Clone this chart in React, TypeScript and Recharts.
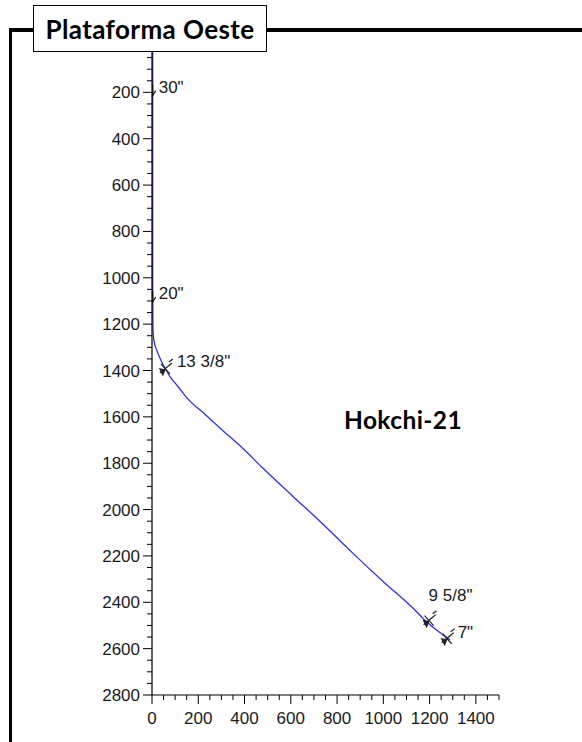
import React from "react";
import { ComposedChart, Line, Scatter, XAxis, YAxis } from "recharts";

// Well trajectory (horizontal displacement in m, vertical depth in m)
const wellX = [3, 3, 3, 3, 4, 5, 10, 20, 36, 56, 80, 99, 113, 152, 230, 309, 383, 480, 606, 736, 870, 1000, 1130, 1187, 1288];
const wellDepth = [0, 200, 600, 1000, 1200, 1240, 1280, 1311, 1350, 1389, 1430, 1453, 1470, 1519, 1590, 1662, 1727, 1822, 1940, 2060, 2190, 2311, 2427, 2484, 2562];

// Casing shoes
const casingNames = ['30"', '20"', '13 3/8"', '9 5/8"', '7"'];
const casingX = [3, 3, 60, 1200, 1278];
const casingDepth = [210, 1100, 1389, 2475, 2553];
const casingKind = ["arrow", "arrow", "cross", "cross", "cross"];

const xTicks = Array.from({ length: 31 }, (_, i) => i * 50);
const yTicks = Array.from({ length: 57 }, (_, i) => i * 50);

const titleText = "Plataforma Oeste";
const wellName = "Hokchi-21";

const wellData = wellX.map((x, i) => ({ x, depth: wellDepth[i] }));
const casingData = casingNames.map((name, i) => ({
  name,
  x: casingX[i],
  depth: casingDepth[i],
  kind: casingKind[i],
}));

const labelOffset: Record<string, [number, number]> = {
  '30"': [6, -8],
  '20"': [6, -8],
  '13 3/8"': [11, -7],
  '9 5/8"': [-1, -25],
  '7"': [10, -6],
};

const FONT = "Arial, 'Liberation Sans', sans-serif";
const TICK_COLOR = "#1a1a1a";

const YTick = (props: any) => {
  const { x, y, payload } = props;
  const v = payload.value;
  const major = v % 200 === 0;
  return (
    <g>
      <line x1={x - (major ? 9 : 5)} y1={y} x2={x} y2={y} stroke="#000" strokeWidth={1} />
      {major && v !== 0 && (
        <text x={x - 12} y={y} dy={6} textAnchor="end" fontSize={17} fontFamily={FONT} fill={TICK_COLOR}>
          {v}
        </text>
      )}
    </g>
  );
};

const XTick = (props: any) => {
  const { x, y, payload } = props;
  const v = payload.value;
  const major = v % 200 === 0;
  return (
    <g>
      <line x1={x} y1={y} x2={x} y2={y + (major ? 9 : 5)} stroke="#000" strokeWidth={1} />
      {major && (
        <text x={x} y={y + 29} textAnchor="middle" fontSize={17} fontFamily={FONT} fill={TICK_COLOR}>
          {v}
        </text>
      )}
    </g>
  );
};

const CasingShape = (props: any) => {
  const { cx, cy, payload } = props;
  const [dx, dy] = labelOffset[payload.name] || [6, -6];
  return (
    <g>
      {payload.kind === "arrow" ? (
        <g stroke="#111" strokeWidth={1.2} fill="#111">
          <line x1={cx} y1={cy - 10} x2={cx} y2={cy} />
          <path d={`M${cx - 3},${cy - 4} L${cx},${cy + 1} L${cx + 3},${cy - 4}`} fill="none" />
        </g>
      ) : (
        <g stroke="#222" strokeWidth={1.2} fill="#222">
          <line x1={cx - 6} y1={cy + 5} x2={cx + 6} y2={cy - 5} />
          <line x1={cx - 5} y1={cy - 4} x2={cx + 4} y2={cy + 6} />
          <path d={`M${cx - 6},${cy + 1} L${cx - 1},${cy + 2} L${cx - 3},${cy + 7} Z`} />
          <line x1={cx + 3} y1={cy - 6} x2={cx + 7} y2={cy - 9} />
        </g>
      )}
      <text x={cx + dx} y={cy + dy} dy={6} fontSize={17} fontFamily={FONT} fill={TICK_COLOR}>
        {payload.name}
      </text>
    </g>
  );
};

export default function App() {
  return (
    <div style={{ position: "absolute", left: 0, top: 0, width: 582, height: 742, background: "#fff", overflow: "hidden" }}>
      <ComposedChart
        width={582}
        height={742}
        data={wellData}
        margin={{ top: 46, right: 83, bottom: 0, left: 0 }}
      >
        <XAxis
          dataKey="x"
          type="number"
          domain={[0, 1500]}
          ticks={xTicks}
          interval={0}
          tickSize={0}
          tickMargin={0}
          height={47}
          axisLine={{ stroke: "#000", strokeWidth: 1.2 }}
          tickLine={false}
          tick={<XTick />}
          allowDataOverflow
        />
        <YAxis
          dataKey="depth"
          type="number"
          reversed
          domain={[0, 2800]}
          ticks={yTicks}
          interval={0}
          tickSize={0}
          tickMargin={0}
          width={152}
          axisLine={{ stroke: "#000", strokeWidth: 1.2 }}
          tickLine={false}
          tick={<YTick />}
          allowDataOverflow
        />
        <Line
          dataKey="depth"
          type="monotone"
          stroke="#2f2fee"
          strokeWidth={1.3}
          dot={false}
          activeDot={false}
          isAnimationActive={false}
        />
        <Scatter data={casingData} dataKey="depth" shape={<CasingShape />} isAnimationActive={false} />
      </ComposedChart>

      {/* frame */}
      <div style={{ position: "absolute", left: 9, top: 28, width: 3, height: 720, background: "#000" }} />
      <div style={{ position: "absolute", left: 9, top: 28, width: 573, height: 4, background: "#000" }} />

      {/* title box */}
      <div
        style={{
          position: "absolute",
          left: 33,
          top: 5,
          width: 232,
          height: 45,
          border: "1.5px solid #000",
          background: "#fff",
          display: "flex",
          alignItems: "center",
          justifyContent: "center",
          fontFamily: "Lato, 'Open Sans', sans-serif",
          fontWeight: 700,
          fontSize: 26,
          letterSpacing: 0.4,
          color: "#000",
        }}
      >
        {titleText}
      </div>

      <div
        style={{
          position: "absolute",
          left: 344,
          top: 405,
          fontFamily: "Lato, 'Open Sans', sans-serif",
          fontWeight: 700,
          fontSize: 24.5,
          letterSpacing: 0.4,
          color: "#000",
          lineHeight: "30px",
        }}
      >
        {wellName}
      </div>
    </div>
  );
}
